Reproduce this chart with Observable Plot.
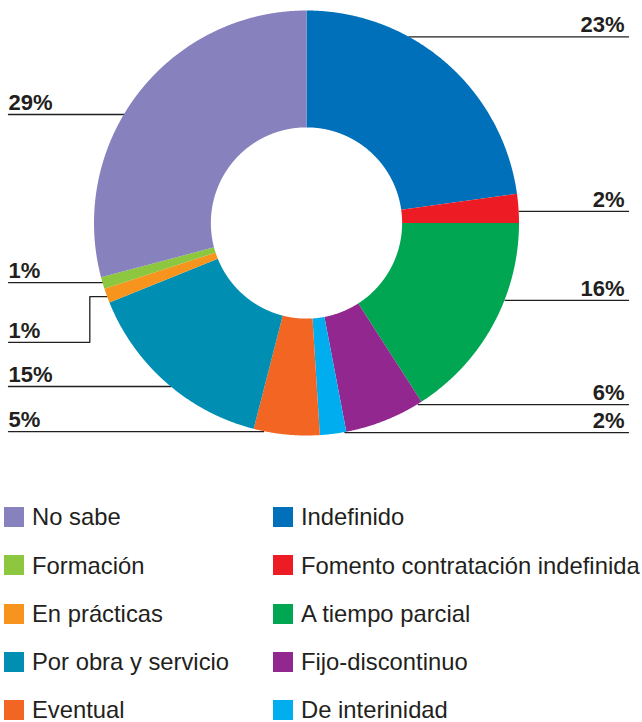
<!DOCTYPE html>
<html><head><meta charset="utf-8">
<script src="https://cdn.jsdelivr.net/npm/d3@7"></script>
<script src="https://cdn.jsdelivr.net/npm/@observablehq/plot@0.6"></script>
<style>
body{margin:0;background:#fff;font-family:"Liberation Sans",Arial,sans-serif;}
#chart svg{display:block;}
.legend{display:grid;grid-template-columns:269px 373px;grid-auto-flow:column;grid-template-rows:repeat(5,48.3px);}
.item{display:flex;align-items:center;font-size:23.8px;line-height:1;color:#231f20;white-space:nowrap;}
.sw{width:20px;height:20px;margin-left:4px;margin-right:8px;flex:none;}
</style></head><body>
<div id="chart"></div>
<div class="legend" id="legend"></div>
<script>
// ---- data (slice order, clockwise from 12 o'clock) ----
const categories = ["Indefinido","Fomento contratación indefinida","A tiempo parcial","Fijo-discontinuo","De interinidad","Eventual","Por obra y servicio","En prácticas","Formación","No sabe"];
const values = [22.8, 2.2, 15.9, 6.1, 2.0, 5.0, 14.9, 1.1, 0.9, 29.1];
const labels = ["23%","2%","16%","6%","2%","5%","15%","1%","1%","29%"];
const colors = ["#0070ba","#ed1c24","#00a651","#92278f","#00aeef","#f26522","#008fb3","#f7941d","#8dc63f","#8781bd"];
const legendOrder = ["No sabe","Formación","En prácticas","Por obra y servicio","Eventual","Indefinido","Fomento contratación indefinida","A tiempo parcial","Fijo-discontinuo","De interinidad"];

// ---- layout (radius units, y grows downward) ----
const W = 642, H = 493, CX = 306.5, CY = 223, R = 212.5, INNER = 0.45;
const labelSide = ["right","right","right","right","right","left","left","left","left","left"];
const labelLineY = [-0.878, -0.057, 0.362, 0.852, 0.984, 0.979, 0.767, 0.559, 0.278, -0.513];
const elbow = {"En prácticas": {x: -1.022, anchorY: 0.344}};
const xLeft = (8 - CX) / R, xRight = (628 - CX) / R;

// ---- slice geometry from d3.pie ----
const arcs = d3.pie().sort(null).startAngle(0).endAngle(2 * Math.PI)(values);
const ring = [];
arcs.forEach((a, i) => {
  const n = Math.max(2, Math.ceil((a.endAngle - a.startAngle) / 0.004));
  for (let k = 0; k <= n; k++) {
    const t = a.startAngle + (a.endAngle - a.startAngle) * k / n;
    const s = Math.sin(t), c = -Math.cos(t);
    ring.push({cat: categories[i], x1: s, y1: c, x2: s * INNER, y2: c * INNER});
  }
});

// ---- leader lines & labels ----
const leaders = [], texts = [];
categories.forEach((cat, i) => {
  const y = labelLineY[i];
  if (labelSide[i] === "right") {
    leaders.push({cat, x: Math.sqrt(1 - y * y), y}, {cat, x: xRight, y});
    texts.push({label: labels[i], x: xRight, y, anchor: "end"});
  } else {
    const e = elbow[cat];
    if (e) {
      leaders.push({cat, x: xLeft, y}, {cat, x: e.x, y}, {cat, x: e.x, y: e.anchorY}, {cat, x: -Math.sqrt(1 - e.anchorY ** 2), y: e.anchorY});
    } else {
      leaders.push({cat, x: xLeft, y}, {cat, x: -Math.sqrt(1 - y * y), y});
    }
    texts.push({label: labels[i], x: xLeft, y, anchor: "start"});
  }
});

const chart = Plot.plot({
  width: W, height: H,
  margin: 0, marginTop: 0, marginRight: 0, marginBottom: 0, marginLeft: 0,
  x: {domain: [-CX / R, (W - CX) / R], range: [0, W], axis: null},
  y: {domain: [-CY / R, (H - CY) / R], range: [0, H], axis: null},
  color: {domain: categories, range: colors},
  style: {fontFamily: '"Liberation Sans", Arial, sans-serif', background: "white"},
  marks: [
    Plot.line(leaders, {x: "x", y: "y", z: "cat", stroke: "#231f20", strokeWidth: 1.3}),
    Plot.area(ring, {x1: "x1", y1: "y1", x2: "x2", y2: "y2", fill: "cat", z: "cat"}),
    Plot.text(texts.filter(d => d.anchor === "end"), {x: "x", y: "y", text: "label", textAnchor: "end", lineAnchor: "bottom", dx: -4, dy: -4.5, fontSize: 22, fontWeight: "bold", fill: "#231f20"}),
    Plot.text(texts.filter(d => d.anchor === "start"), {x: "x", y: "y", text: "label", textAnchor: "start", lineAnchor: "bottom", dy: -4.5, fontSize: 22, fontWeight: "bold", fill: "#231f20"})
  ]
});
document.getElementById("chart").appendChild(chart);

// ---- legend ----
const legend = document.getElementById("legend");
legendOrder.forEach(name => {
  const item = document.createElement("div");
  item.className = "item";
  const sw = document.createElement("span");
  sw.className = "sw";
  sw.style.background = colors[categories.indexOf(name)];
  const tx = document.createElement("span");
  tx.textContent = name;
  item.append(sw, tx);
  legend.appendChild(item);
});
</script>
</body></html>
